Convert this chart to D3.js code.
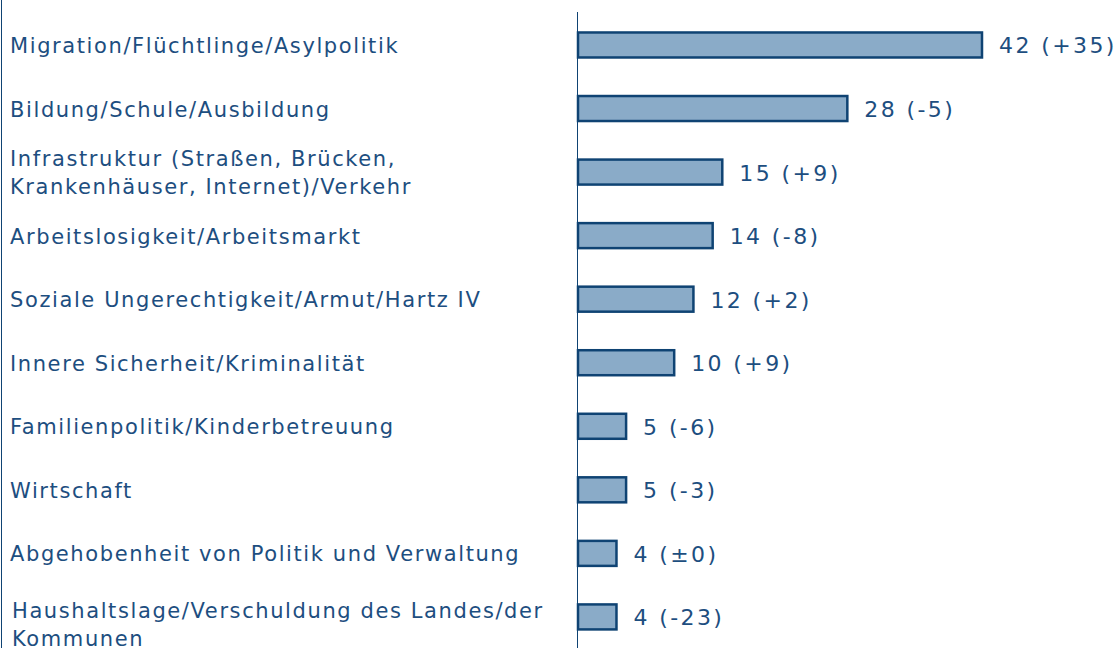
<!DOCTYPE html>
<html>
<head>
<meta charset="utf-8">
<script src="https://cdn.jsdelivr.net/npm/d3@7"></script>
<style>
  body { margin: 0; background: #fff; }
  svg { display: block; }
</style>
</head>
<body>
<div id="chart"></div>
<script>
// Categories (label lines), values and changes
const categories = [
  ['Migration/Flüchtlinge/Asylpolitik'],
  ['Bildung/Schule/Ausbildung'],
  ['Infrastruktur (Straßen, Brücken,', 'Krankenhäuser, Internet)/Verkehr'],
  ['Arbeitslosigkeit/Arbeitsmarkt'],
  ['Soziale Ungerechtigkeit/Armut/Hartz IV'],
  ['Innere Sicherheit/Kriminalität'],
  ['Familienpolitik/Kinderbetreuung'],
  ['Wirtschaft'],
  ['Abgehobenheit von Politik und Verwaltung'],
  ['Haushaltslage/Verschuldung des Landes/der', 'Kommunen']
];
const values = [42, 28, 15, 14, 12, 10, 5, 5, 4, 4];
const changes = ['+35', '-5', '+9', '-8', '+2', '+9', '-6', '-3', '±0', '-23'];

const width = 1119, height = 648;
const textColor = '#1d4e80';
const barStroke = '#0f4373';
const barFill = '#8aabc8';

const svg = d3.select('#chart').append('svg')
  .attr('width', width)
  .attr('height', height);

const x = d3.scaleLinear()
  .domain([0, 42])
  .range([578, 982]);

const y = d3.scaleBand()
  .domain(d3.range(values.length))
  .range([13.2, 648.7])
  .padding(0);

const barH = 25;

// left border
svg.append('line')
  .attr('x1', 1.5).attr('x2', 1.5)
  .attr('y1', 0).attr('y2', height)
  .attr('stroke', barStroke)
  .attr('stroke-width', 1);

// bars
svg.selectAll('.bar')
  .data(values)
  .enter()
  .append('rect')
  .attr('class', 'bar')
  .attr('x', x(0))
  .attr('y', (d, i) => y(i) + y.bandwidth() / 2 - barH / 2)
  .attr('width', d => x(d) - x(0))
  .attr('height', barH)
  .attr('fill', barFill)
  .attr('stroke', barStroke)
  .attr('stroke-width', 2.5);

// vertical axis line
svg.append('line')
  .attr('x1', x(0) - 0.5).attr('x2', x(0) - 0.5)
  .attr('y1', 12).attr('y2', height)
  .attr('stroke', barStroke)
  .attr('stroke-width', 1);

// category labels
const lineH = 28;
svg.selectAll('.cat')
  .data(categories)
  .enter()
  .append('text')
  .attr('class', 'cat')
  .attr('x', (d, i) => i === categories.length - 1 ? 12 : 10)
  .attr('y', (d, i) => y(i) + y.bandwidth() / 2 + 1 - (d.length - 1) * lineH / 2 + (i === categories.length - 1 ? 7 : 0))
  .attr('fill', textColor)
  .style('font-family', 'Verdana, "DejaVu Sans", sans-serif')
  .style('font-size', '21px')
  .style('letter-spacing', '1.6px')
  .attr('dominant-baseline', 'central')
  .each(function(d) {
    d3.select(this).selectAll('tspan')
      .data(d)
      .enter()
      .append('tspan')
      .attr('x', d3.select(this).attr('x'))
      .attr('dy', (t, j) => j === 0 ? 0 : lineH)
      .text(t => t);
  });

// value labels
svg.selectAll('.val')
  .data(values)
  .enter()
  .append('text')
  .attr('class', 'val')
  .attr('x', d => x(d) + 17)
  .attr('y', (d, i) => y(i) + y.bandwidth() / 2 + 1)
  .attr('fill', textColor)
  .attr('dominant-baseline', 'central')
  .style('font-family', 'Verdana, "DejaVu Sans", sans-serif')
  .style('font-size', '22px')
  .style('letter-spacing', '2.4px')
  .text((d, i) => `${d} (${changes[i]})`);
</script>
</body>
</html>
